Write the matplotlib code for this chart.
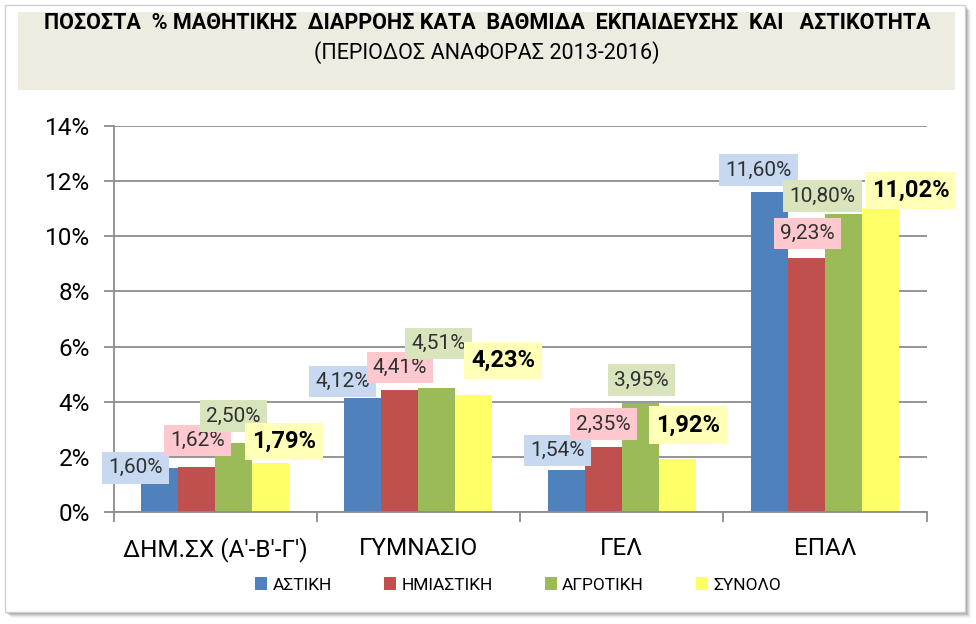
import matplotlib
matplotlib.use('Agg')
import matplotlib.pyplot as plt
from matplotlib.patches import Rectangle, Patch
from matplotlib.transforms import IdentityTransform
import numpy as np

# ---------------- data ----------------
categories = ["ΔΗΜ.ΣΧ (Α'-Β'-Γ')", "ΓΥΜΝΑΣΙΟ", "ΓΕΛ", "ΕΠΑΛ"]
series_names = ["ΑΣΤΙΚΗ", "ΗΜΙΑΣΤΙΚΗ", "ΑΓΡΟΤΙΚΗ", "ΣΥΝΟΛΟ"]
astiki = [1.60, 4.12, 1.54, 11.60]
imiastiki = [1.62, 4.41, 2.35, 9.23]
agrotiki = [2.50, 4.51, 3.95, 10.80]
synolo = [1.79, 4.23, 1.92, 11.02]
y_ticks = [0, 2, 4, 6, 8, 10, 12, 14]
title_line1 = "ΠΟΣΟΣΤΑ  % ΜΑΘΗΤΙΚΗΣ  ΔΙΑΡΡΟΗΣ ΚΑΤΑ  ΒΑΘΜΙΔΑ  ΕΚΠΑΙΔΕΥΣΗΣ  ΚΑΙ   ΑΣΤΙΚΟΤΗΤΑ"
title_line2 = "(ΠΕΡΙΟΔΟΣ ΑΝΑΦΟΡΑΣ 2013-2016)"

# ---------------- style ----------------
bar_colors = ["#4F81BD", "#C0504D", "#9BBB59", "#FFFF66"]
label_bg = ["#C6D9F1", "#FFC7CE", "#D8E4BC", "#FFFFB8"]
# label offsets in pixels (dx, dy-up) from bar top centre, per series per category
label_offsets = [
    [(-24, 0), (-20, 17), (-9, 19), (-11, 22)],
    [(1, 27), (0, 23), (0, 23), (1, 24)],
    [(0, 27), (2, 44), (1, 23), (-21, 18)],
    [(13, 21), (29, 35), (11, 34), (30, 18)],
]
FONT = ['Roboto', 'DejaVu Sans']
plt.rcParams['font.family'] = FONT

W, H = 976, 624
fig = plt.figure(figsize=(W / 100, H / 100), dpi=100)
fig.patch.set_facecolor('white')

ident = IdentityTransform()


def prect(x0, y0, x1, y1, z, **kw):
    r = Rectangle((x0, H - y1), x1 - x0, y1 - y0, transform=ident, zorder=z, **kw)
    fig.patches.append(r)
    return r


# outer frame with shadow
for k, a in zip(range(6, 0, -1), [0.05, 0.08, 0.12, 0.16, 0.22, 0.3]):
    prect(5 + k, 5 + k, 965 + k, 612 + k, -5, facecolor='#555555', alpha=a, edgecolor='none')
prect(5, 5, 965, 612, -4, facecolor='white', edgecolor='#D0D0D0', linewidth=1)
# title box
prect(18, 12, 955, 90, -3, facecolor='#EEECE1', edgecolor='none')

fig.text(487 / W, 1 - 23 / H, title_line1, ha='center', va='center', fontsize=15.5,
         fontweight='bold', color='black')
fig.text(487 / W, 1 - 53 / H, title_line2, ha='center', va='center', fontsize=15.5,
         color='black')

# ---------------- axes ----------------
ax_left, ax_right, ax_top, ax_bottom = 113.5, 926.7, 126, 512
ax = fig.add_axes([ax_left / W, 1 - ax_bottom / H, (ax_right - ax_left) / W, (ax_bottom - ax_top) / H])
ax.set_facecolor('none')

series = [astiki, imiastiki, agrotiki, synolo]
n = len(categories)
x = np.arange(n)
bw = 0.182
for j, vals in enumerate(series):
    ax.bar(x + (j - 1.5) * bw, vals, width=bw, color=bar_colors[j], edgecolor='none',
           zorder=2, label=series_names[j])

for j, vals in enumerate(series):
    for i, v in enumerate(vals):
        dx, dy = label_offsets[j][i]
        txt = f"{v:.2f}".replace('.', ',') + '%'
        bold = (j == 3)
        ax.annotate(txt, xy=(x[i] + (j - 1.5) * bw, v), xytext=(dx, dy),
                    textcoords='offset pixels', ha='center', va='center',
                    fontsize=17 if bold else 15,
                    fontweight='bold' if bold else 'normal',
                    color='black' if bold else '#303030',
                    bbox=dict(boxstyle='square,pad=0.3', facecolor=label_bg[j], edgecolor='none'),
                    zorder=5 + j, annotation_clip=False)

ax.set_xlim(-0.5, n - 0.5)
ax.set_ylim(0, 14)
ax.set_yticks(y_ticks)
ax.set_yticklabels([f"{t}%" for t in y_ticks])
ax.yaxis.grid(True, color='#8C8C8C', linewidth=1.3, zorder=1)
ax.set_axisbelow(True)
for s in ['top', 'right']:
    ax.spines[s].set_visible(False)
for s in ['left', 'bottom']:
    ax.spines[s].set_color('#8C8C8C')
    ax.spines[s].set_linewidth(1.3)

ax.set_xticks(x)
ax.set_xticklabels(categories)
ax.set_xticks(np.arange(n + 1) - 0.5, minor=True)
ax.tick_params(axis='x', which='major', length=0, pad=18, labelsize=17.5, labelcolor='black')
ax.tick_params(axis='x', which='minor', length=7, width=1.3, color='#8C8C8C')
ax.tick_params(axis='y', length=7, width=1.3, color='#8C8C8C', pad=10, labelsize=17.5, labelcolor='black')

handles = [Patch(facecolor=c, edgecolor='none') for c in bar_colors]
fig.legend(handles, series_names, loc='center', bbox_to_anchor=(518 / W, 1 - 585 / H),
           ncol=4, frameon=False, fontsize=12.5, handlelength=0.7, handleheight=0.7,
           handletextpad=0.3, columnspacing=3.0)

fig.savefig('out.png', dpi=100)
